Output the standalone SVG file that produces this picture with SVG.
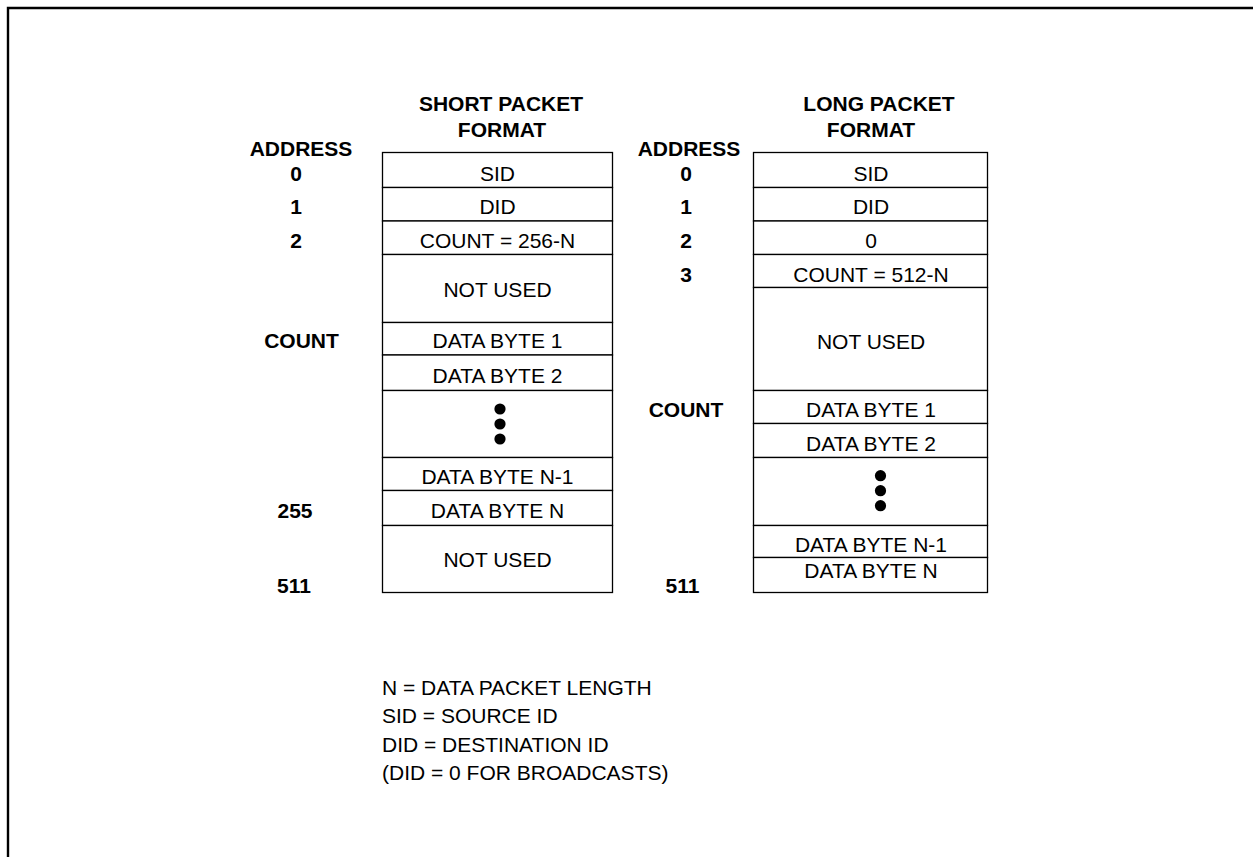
<svg xmlns="http://www.w3.org/2000/svg" width="1253" height="857" viewBox="0 0 1253 857">
<style>
text{font-family:"Liberation Sans",Arial,sans-serif;font-size:21px;fill:#000}
.b{font-weight:bold}
.c{text-anchor:middle}
.cell{fill:#fff;stroke:#000;stroke-width:1.3}
.dot{fill:#000}
</style>
<rect width="1253" height="857" fill="#fff"/>
<path d="M8,857 V8 H1253" fill="none" stroke="#000" stroke-width="2.4"/>
<g id="short-title">
<text class="b c" x="501" y="110.5">SHORT PACKET</text>
<text class="b c" x="502" y="136.5">FORMAT</text>
</g>
<g id="short-address">
<text class="b c" x="301" y="156">ADDRESS</text>
<text class="b c" x="296" y="180.7">0</text>
<text class="b c" x="296" y="214">1</text>
<text class="b c" x="296" y="248.3">2</text>
<text class="b c" x="301.5" y="348.3">COUNT</text>
<text class="b c" x="295" y="518.3">255</text>
<text class="b c" x="294" y="593.3">511</text>
</g>
<g id="short-table">
<rect class="cell" x="382.5" y="152.5" width="230" height="35"/>
<rect class="cell" x="382.5" y="187.5" width="230" height="33.5"/>
<rect class="cell" x="382.5" y="221" width="230" height="33.5"/>
<rect class="cell" x="382.5" y="254.5" width="230" height="68"/>
<rect class="cell" x="382.5" y="322.5" width="230" height="32.5"/>
<rect class="cell" x="382.5" y="355" width="230" height="35.5"/>
<rect class="cell" x="382.5" y="390.5" width="230" height="67"/>
<rect class="cell" x="382.5" y="457.5" width="230" height="33"/>
<rect class="cell" x="382.5" y="490.5" width="230" height="35"/>
<rect class="cell" x="382.5" y="525.5" width="230" height="67"/>
<text class="c" x="497.5" y="180.7">SID</text>
<text class="c" x="497.5" y="214">DID</text>
<text class="c" x="497.5" y="248.3">COUNT = 256-N</text>
<text class="c" x="497.5" y="296.7">NOT USED</text>
<text class="c" x="497.5" y="348.3">DATA BYTE 1</text>
<text class="c" x="497.5" y="383.3">DATA BYTE 2</text>
<circle class="dot" cx="500" cy="409" r="5.6"/>
<circle class="dot" cx="500" cy="424" r="5.6"/>
<circle class="dot" cx="500" cy="439" r="5.6"/>
<text class="c" x="497.5" y="484">DATA BYTE N-1</text>
<text class="c" x="497.5" y="518.3">DATA BYTE N</text>
<text class="c" x="497.5" y="566.7">NOT USED</text>
</g>
<g id="long-title">
<text class="b c" x="879" y="110.5">LONG PACKET</text>
<text class="b c" x="871" y="136.5">FORMAT</text>
</g>
<g id="long-address">
<text class="b c" x="689" y="156">ADDRESS</text>
<text class="b c" x="686" y="180.7">0</text>
<text class="b c" x="686" y="214">1</text>
<text class="b c" x="686" y="248.3">2</text>
<text class="b c" x="686" y="281.7">3</text>
<text class="b c" x="686" y="417.3">COUNT</text>
<text class="b c" x="682.5" y="593.3">511</text>
</g>
<g id="long-table">
<rect class="cell" x="753.5" y="152.5" width="234" height="35"/>
<rect class="cell" x="753.5" y="187.5" width="234" height="33.5"/>
<rect class="cell" x="753.5" y="221" width="234" height="33.5"/>
<rect class="cell" x="753.5" y="254.5" width="234" height="33"/>
<rect class="cell" x="753.5" y="287.5" width="234" height="103"/>
<rect class="cell" x="753.5" y="390.5" width="234" height="33"/>
<rect class="cell" x="753.5" y="423.5" width="234" height="34"/>
<rect class="cell" x="753.5" y="457.5" width="234" height="68"/>
<rect class="cell" x="753.5" y="525.5" width="234" height="32"/>
<rect class="cell" x="753.5" y="557.5" width="234" height="35"/>
<text class="c" x="871" y="180.7">SID</text>
<text class="c" x="871" y="214">DID</text>
<text class="c" x="871" y="248.3">0</text>
<text class="c" x="871" y="281.7">COUNT = 512-N</text>
<text class="c" x="871" y="349.3">NOT USED</text>
<text class="c" x="871" y="417.3">DATA BYTE 1</text>
<text class="c" x="871" y="451">DATA BYTE 2</text>
<circle class="dot" cx="880.5" cy="475.7" r="5.6"/>
<circle class="dot" cx="880.5" cy="490.7" r="5.6"/>
<circle class="dot" cx="880.5" cy="505.7" r="5.6"/>
<text class="c" x="871" y="551.7">DATA BYTE N-1</text>
<text class="c" x="871" y="578.3">DATA BYTE N</text>
</g>
<g id="legend">
<text x="382" y="695">N = DATA PACKET LENGTH</text>
<text x="382" y="723.3">SID = SOURCE ID</text>
<text x="382" y="751.7">DID = DESTINATION ID</text>
<text x="382" y="780">(DID = 0 FOR BROADCASTS)</text>
</g>
<g id="connectors"></g>
</svg>
